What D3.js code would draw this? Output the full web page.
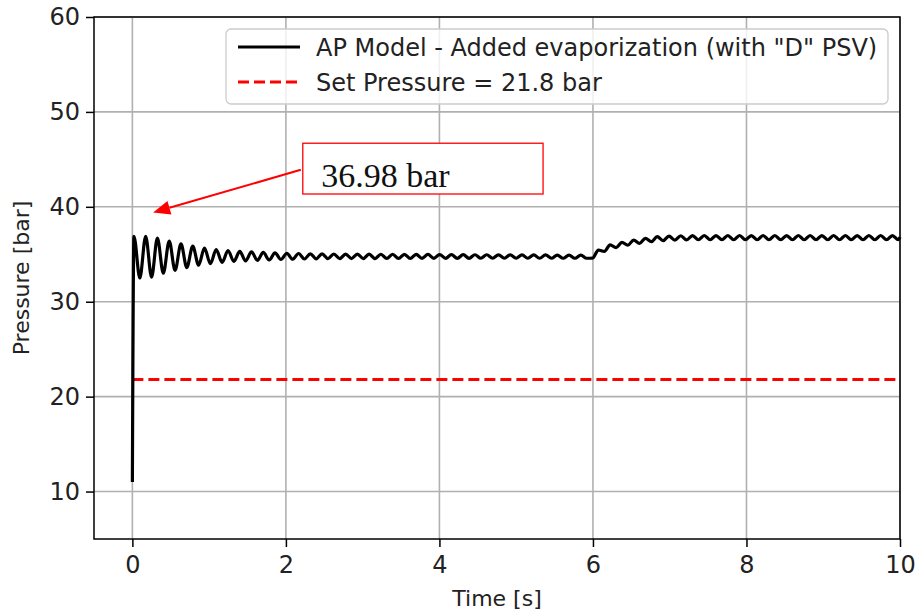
<html>
<head>
    <meta charset="UTF-8" />
    <script src="https://d3js.org/d3.v7.min.js"></script>
    <style>
        body { margin: 0; background: white; }
        text { font-family: "DejaVu Sans", sans-serif; fill: #222; }
        .grid line { stroke: #b0b0b0; stroke-width: 1.6px; }
        .spine { stroke: black; stroke-width: 1.5px; fill: none; }
    </style>
</head>
<body>
<svg id="chart" width="916" height="611"></svg>
<script>
    // data
    const timeS = [0.000,
        0.020, 0.097, 0.173, 0.250, 0.326, 0.403, 0.480, 0.556, 0.633, 0.709,
        0.786, 0.863, 0.939, 1.016, 1.092, 1.169, 1.246, 1.322, 1.399, 1.475,
        1.552, 1.629, 1.705, 1.782, 1.858, 1.935, 2.012, 2.088, 2.165, 2.241,
        2.318, 2.395, 2.471, 2.548, 2.624, 2.701, 2.778, 2.854, 2.931, 3.007,
        3.084, 3.161, 3.237, 3.314, 3.390, 3.467, 3.544, 3.620, 3.697, 3.773,
        3.850, 3.927, 4.003, 4.080, 4.156, 4.233, 4.310, 4.386, 4.463, 4.539,
        4.616, 4.693, 4.769, 4.846, 4.922, 4.999, 5.076, 5.152, 5.229, 5.305,
        5.382, 5.459, 5.535, 5.612, 5.688, 5.765, 5.842, 5.918, 5.995, 6.071,
        6.148, 6.224, 6.301, 6.378, 6.454, 6.531, 6.607, 6.684, 6.761, 6.837,
        6.914, 6.990, 7.067, 7.144, 7.220, 7.297, 7.373, 7.450, 7.527, 7.603,
        7.680, 7.757, 7.833, 7.910, 7.986, 8.063, 8.140, 8.216, 8.293, 8.369,
        8.446, 8.523, 8.599, 8.676, 8.752, 8.829, 8.906, 8.982, 9.059, 9.135,
        9.212, 9.289, 9.365, 9.442, 9.518, 9.595, 9.672, 9.748, 9.825, 9.901,
        9.978, 10.000];
    const pressureBar = [11.0,
        36.9, 32.5, 36.9, 32.6, 36.7, 33.0, 36.4, 33.3, 36.1, 33.6,
        35.85, 33.85, 35.65, 34.0, 35.5, 34.15, 35.4, 34.25, 35.3, 34.3,
        35.25, 34.35, 35.2, 34.4, 35.15, 34.45, 35.1, 34.48, 35.08, 34.5,
        35.05, 34.52, 35.04, 34.53, 35.03, 34.54, 35.02, 34.55, 35.02, 34.55,
        35.01, 34.55, 35.0, 34.56, 35.0, 34.56, 34.99, 34.56, 34.99, 34.57,
        34.98, 34.57, 34.97, 34.57, 34.96, 34.57, 34.96, 34.57, 34.95, 34.58,
        34.95, 34.58, 34.94, 34.58, 34.94, 34.58, 34.93, 34.58, 34.93, 34.58,
        34.93, 34.58, 34.92, 34.58, 34.92, 34.58, 34.92, 34.58, 34.6, 35.45,
        35.3, 36.0, 35.7, 36.25, 35.95, 36.5, 36.15, 36.68, 36.33, 36.85,
        36.43, 36.92, 36.5, 36.95, 36.52, 36.97, 36.53, 36.98, 36.53, 36.97,
        36.54, 36.98, 36.53, 36.98, 36.54, 36.97, 36.53, 36.98, 36.53, 36.98,
        36.54, 36.97, 36.53, 36.98, 36.53, 36.98, 36.54, 36.97, 36.53, 36.98,
        36.53, 36.98, 36.54, 36.97, 36.53, 36.98, 36.53, 36.98, 36.54, 36.97,
        36.53, 36.8];
    const setPressure = 21.8;
    const setTime = [0, 10];
    const xTicks = [0, 2, 4, 6, 8, 10];
    const yTicks = [10, 20, 30, 40, 50, 60];
    const legendLabels = ['AP Model - Added evaporization (with "D" PSV)', "Set Pressure = 21.8 bar"];
    const peakLabel = "36.98 bar";

    const svg = d3.select("#chart");
    const plotLeft = 94, plotRight = 900, plotTop = 17, plotBottom = 539;

    const x = d3.scaleLinear().domain([-0.5, 10]).range([plotLeft, plotRight]);
    const y = d3.scaleLinear().domain([5, 60]).range([plotBottom, plotTop]);

    // grid
    svg.append("g").attr("class", "grid")
        .selectAll("line").data(xTicks).join("line")
        .attr("x1", d => x(d)).attr("x2", d => x(d))
        .attr("y1", plotTop).attr("y2", plotBottom);
    svg.append("g").attr("class", "grid")
        .selectAll("line").data(yTicks).join("line")
        .attr("x1", plotLeft).attr("x2", plotRight)
        .attr("y1", d => y(d)).attr("y2", d => y(d));

    // set pressure line
    const setLine = d3.line().x(d => x(d)).y(() => y(setPressure));
    svg.append("path").datum(setTime)
        .attr("d", setLine)
        .style("fill", "none").style("stroke", "#ff0000")
        .style("stroke-width", 3).style("stroke-dasharray", "11,5");

    // model line
    const modelLine = d3.line().x((d, i) => x(timeS[i])).y(d => y(d))
        .curve(d3.curveMonotoneX);
    svg.append("path").datum(pressureBar)
        .attr("d", modelLine)
        .style("fill", "none").style("stroke", "black")
        .style("stroke-width", 3.2).style("stroke-linejoin", "round");

    // axes
    const xAxis = svg.append("g")
        .attr("transform", "translate(0," + plotBottom + ")")
        .call(d3.axisBottom(x).tickValues(xTicks).tickSize(8).tickPadding(9).tickFormat(d3.format("d")));
    const yAxis = svg.append("g")
        .attr("transform", "translate(" + plotLeft + ",0)")
        .call(d3.axisLeft(y).tickValues(yTicks).tickSize(8).tickPadding(6).tickFormat(d3.format("d")));
    [xAxis, yAxis].forEach(ax => {
        ax.select(".domain").remove();
        ax.selectAll(".tick line").style("stroke", "black").style("stroke-width", 1.5);
        ax.selectAll(".tick text").style("font-size", "24px")
            .style("font-family", "DejaVu Sans").style("fill", "#222");
    });

    svg.append("rect").attr("class", "spine")
        .attr("x", plotLeft).attr("y", plotTop)
        .attr("width", plotRight - plotLeft).attr("height", plotBottom - plotTop);

    // axis labels
    svg.append("text")
        .attr("x", (plotLeft + plotRight) / 2).attr("y", 606)
        .attr("text-anchor", "middle").style("font-size", "22px")
        .text("Time [s]");
    svg.append("text")
        .attr("transform", "translate(29," + (plotTop + plotBottom) / 2 + ") rotate(-90)")
        .attr("text-anchor", "middle").style("font-size", "22px")
        .text("Pressure [bar]");

    // legend
    const legend = svg.append("g");
    legend.append("rect")
        .attr("x", 226).attr("y", 29).attr("width", 662).attr("height", 75)
        .attr("rx", 5)
        .style("fill", "white").style("fill-opacity", 0.8)
        .style("stroke", "#cccccc").style("stroke-width", 1.3);
    const legendStyles = [{ c: "black", dash: null }, { c: "#ff0000", dash: "11,5" }];
    legendLabels.forEach((lab, i) => {
        const ly = 47 + i * 35;
        legend.append("line")
            .attr("x1", 238).attr("x2", 300).attr("y1", ly).attr("y2", ly)
            .style("stroke", legendStyles[i].c).style("stroke-width", 3)
            .style("stroke-dasharray", legendStyles[i].dash);
        legend.append("text")
            .attr("x", 316).attr("y", ly + 8.5)
            .style("font-size", "24px")
            .text(lab);
    });

    // annotation box and arrow
    const box = { t0: 2.22, t1: 5.35, p0: 41.35, p1: 46.7 };
    svg.append("rect")
        .attr("x", x(box.t0)).attr("y", y(box.p1))
        .attr("width", x(box.t1) - x(box.t0)).attr("height", y(box.p0) - y(box.p1))
        .style("fill", "white").style("stroke", "#ff0000").style("stroke-width", 1.3);
    svg.append("text")
        .attr("x", x(2.46)).attr("y", y(42.05))
        .style("font-family", "Liberation Serif").style("font-size", "34px").style("fill", "#111")
        .text(peakLabel);

    const a0 = [x(box.t0) - 2, y(43.9)], a1 = [x(0.27), y(39.4)];
    const ang = Math.atan2(a1[1] - a0[1], a1[0] - a0[0]);
    const headL = 17, headW = 7;
    const base = [a1[0] - headL * Math.cos(ang), a1[1] - headL * Math.sin(ang)];
    svg.append("line")
        .attr("x1", a0[0]).attr("y1", a0[1]).attr("x2", base[0]).attr("y2", base[1])
        .style("stroke", "#ff0000").style("stroke-width", 2);
    svg.append("polygon")
        .attr("points", [a1,
            [base[0] + headW * Math.sin(ang), base[1] - headW * Math.cos(ang)],
            [base[0] - headW * Math.sin(ang), base[1] + headW * Math.cos(ang)]].map(p => p.join(",")).join(" "))
        .style("fill", "#ff0000");
</script>
</body>
</html>
